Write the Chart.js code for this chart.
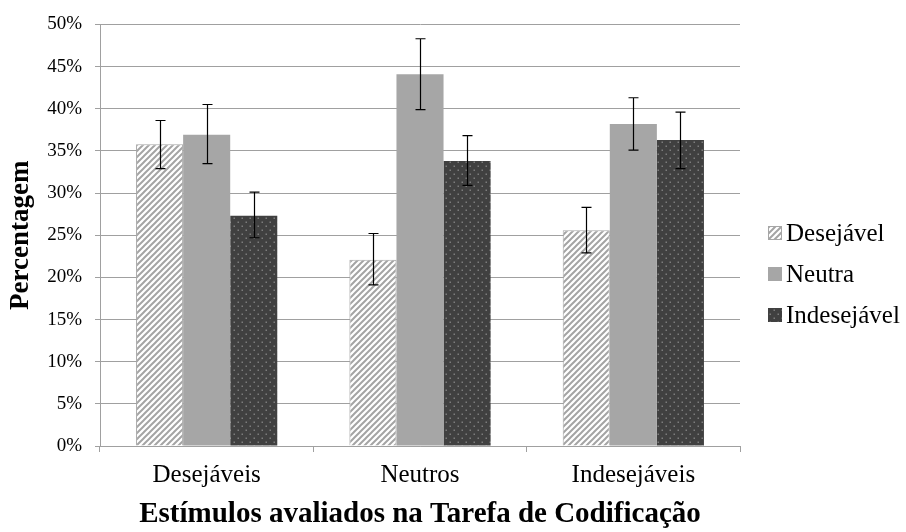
<!DOCTYPE html>
<html>
<head>
<meta charset="utf-8">
<script src="https://cdn.jsdelivr.net/npm/chart.js@4/dist/chart.umd.min.js"></script>
<style>
  html, body { margin: 0; padding: 0; background: #fff; }
  #wrap { width: 906px; height: 532px; }
</style>
</head>
<body>
<div id="wrap"><canvas id="c" width="906" height="532"></canvas></div>
<script>
// Categories and series (percent)
const categories = ['Desejáveis', 'Neutros', 'Indesejáveis'];
const seriesNames = ['Desejável', 'Neutra', 'Indesejável'];

const desejavel   = [35.8, 22.1, 25.6];
const neutra      = [36.9, 44.1, 38.2];
const indesejavel = [27.3, 33.8, 36.3];

// Error bar extents (percent)
const desejavelLow    = [32.9, 19.1, 22.9];
const desejavelHigh   = [38.6, 25.2, 28.3];
const neutraLow       = [33.5, 39.9, 35.1];
const neutraHigh      = [40.5, 48.3, 41.3];
const indesejavelLow  = [24.7, 30.9, 32.9];
const indesejavelHigh = [30.1, 36.8, 39.6];

const yTicks = [0, 5, 10, 15, 20, 25, 30, 35, 40, 45, 50];

const SERIF = '"Liberation Serif", "Times New Roman", serif';
const GRID = '#a0a0a0';

// Fill patterns
function hatchPattern() {
  const t = document.createElement('canvas');
  t.width = 6; t.height = 6;
  const g = t.getContext('2d');
  g.fillStyle = '#ffffff';
  g.fillRect(0, 0, 6, 6);
  g.strokeStyle = '#a4a4a4';
  g.lineWidth = 2;
  g.beginPath();
  g.moveTo(-1, 7); g.lineTo(7, -1);
  g.moveTo(-4, 4); g.lineTo(4, -4);
  g.moveTo(2, 10); g.lineTo(10, 2);
  g.stroke();
  return g.createPattern(t, 'repeat');
}
function dotPattern() {
  const t = document.createElement('canvas');
  t.width = 8; t.height = 8;
  const g = t.getContext('2d');
  g.fillStyle = '#404040';
  g.fillRect(0, 0, 8, 8);
  g.fillStyle = '#7c7c7c';
  g.fillRect(1.5, 1.5, 1.5, 1.5);
  g.fillRect(5.5, 5.5, 1.5, 1.5);
  return g.createPattern(t, 'repeat');
}

const errLow  = [desejavelLow, neutraLow, indesejavelLow];
const errHigh = [desejavelHigh, neutraHigh, indesejavelHigh];

const errorBars = {
  id: 'errorBars',
  afterDatasetsDraw(chart) {
    const ctx = chart.ctx;
    const y = chart.scales.y;
    ctx.save();
    ctx.strokeStyle = '#000';
    ctx.lineWidth = 1.2;
    chart.data.datasets.forEach((ds, i) => {
      const meta = chart.getDatasetMeta(i);
      meta.data.forEach((bar, j) => {
        const x = Math.round(bar.x) + 0.5;
        const yl = y.getPixelForValue(errLow[i][j]);
        const yh = y.getPixelForValue(errHigh[i][j]);
        ctx.beginPath();
        ctx.moveTo(x, yl); ctx.lineTo(x, yh);
        ctx.moveTo(x - 5, yl); ctx.lineTo(x + 5, yl);
        ctx.moveTo(x - 5, yh); ctx.lineTo(x + 5, yh);
        ctx.stroke();
      });
    });
    ctx.restore();
  }
};

// Legend on the right side
const sideLegend = {
  id: 'sideLegend',
  afterDraw(chart) {
    const ctx = chart.ctx;
    const rows = [233, 274, 315];
    ctx.save();
    ctx.font = '25px ' + SERIF;
    ctx.textBaseline = 'middle';
    ctx.fillStyle = '#000';
    chart.data.datasets.forEach((ds, i) => {
      const cy = rows[i];
      ctx.fillStyle = ds.backgroundColor;
      ctx.fillRect(768, cy - 7, 14, 14);
      if (ds.borderWidth) {
        ctx.strokeStyle = ds.borderColor;
        ctx.lineWidth = 1;
        ctx.strokeRect(768.5, cy - 6.5, 13, 13);
      }
      ctx.fillStyle = '#000';
      ctx.fillText(ds.label, 786, cy + 1);
    });
    ctx.restore();
  }
};

new Chart(document.getElementById('c'), {
  type: 'bar',
  data: {
    labels: categories,
    datasets: [
      { label: seriesNames[0], data: desejavel, backgroundColor: hatchPattern(), borderColor: '#a6a6a6', borderWidth: 1 },
      { label: seriesNames[1], data: neutra, backgroundColor: '#a6a6a6', borderWidth: 0 },
      { label: seriesNames[2], data: indesejavel, backgroundColor: dotPattern(), borderWidth: 0 }
    ]
  },
  options: {
    responsive: false,
    animation: false,
    events: [],
    layout: { padding: { top: 14, right: 166, bottom: 0, left: 0 } },
    datasets: { bar: { categoryPercentage: 0.662, barPercentage: 1.0 } },
    plugins: {
      legend: { display: false },
      tooltip: { enabled: false }
    },
    scales: {
      x: {
        afterFit(s) { s.height = 86; },
        grid: { drawOnChartArea: false, drawTicks: true, tickLength: 6, color: GRID, offset: true },
        border: { color: GRID },
        ticks: { color: '#000', font: { family: SERIF, size: 25 }, padding: 8, maxRotation: 0 },
        title: {
          display: true,
          text: 'Estímulos avaliados na Tarefa de Codificação',
          color: '#000',
          font: { family: SERIF, size: 29, weight: 'bold' },
          padding: { top: 0, bottom: 0 }
        }
      },
      y: {
        min: 0, max: 50,
        afterFit(s) { s.width = 100; },
        afterBuildTicks(s) { s.ticks = yTicks.map(v => ({ value: v })); },
        grid: { color: GRID, tickLength: 5, drawTicks: true },
        border: { color: GRID },
        ticks: {
          color: '#000',
          font: { family: SERIF, size: 19 },
          padding: 13,
          callback: v => v + '%'
        },
        title: {
          display: true,
          text: 'Percentagem',
          color: '#000',
          font: { family: SERIF, size: 27, weight: 'bold' },
          padding: { top: 5, bottom: 0 }
        }
      }
    }
  },
  plugins: [errorBars, sideLegend]
});
</script>
</body>
</html>
